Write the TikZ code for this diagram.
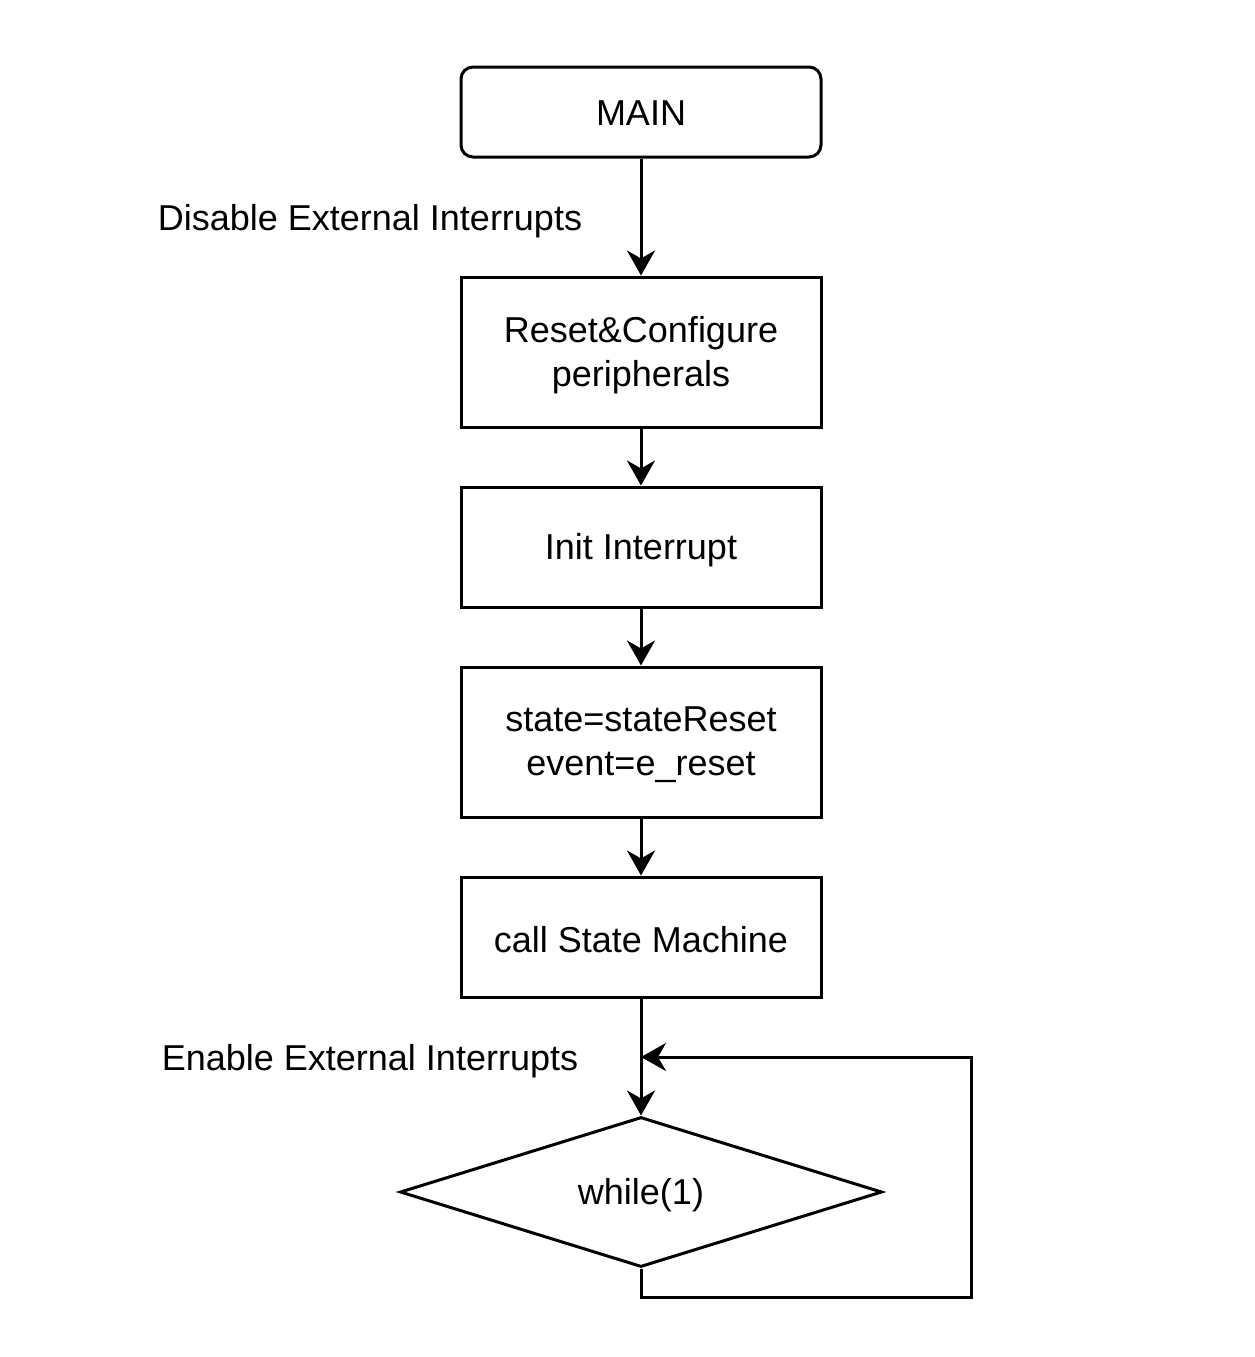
\documentclass[tikz,border=0pt]{standalone}
\usepackage{fontspec}
\setmainfont{Liberation Sans}
\usetikzlibrary{arrows.meta,shapes.geometric}
\newcommand{\lowr}[2][3pt]{\raisebox{-#1}[\height][\depth]{#2}}
\newcommand{\twoline}[2]{\lowr{\begin{minipage}{340pt}\centering #1\\#2\end{minipage}}}
\begin{document}
\begin{tikzpicture}[x=1pt,y=-1pt,
  every node/.style={font=\fontsize{36}{44}\selectfont},
  stepbox/.style={draw,line width=3pt,minimum width=360pt,align=center,inner sep=0pt},
  conn/.style={line width=3pt,-{Stealth[length=25pt,width=28pt,inset=8pt]}},
  lbl/.style={inner sep=0pt}]
\useasboundingbox (0,0) rectangle (1255,1357);
\node[stepbox,rounded corners=12pt,minimum height=90pt] (main) at (641,112) {\lowr[1pt]{MAIN}};
\node[stepbox,minimum height=150pt] (reset) at (641,352) {\twoline{Reset\&Configure}{peripherals}};
\node[stepbox,minimum height=120pt] (init) at (641,547) {\lowr{Init Interrupt}};
\node[stepbox,minimum height=150pt] (state) at (641,742) {\twoline{state=stateReset}{event=e\_reset}};
\node[stepbox,minimum height=120pt] (call) at (641,937) {\lowr{call State Machine}};
\node[draw,line width=3pt,diamond,aspect=3.2133,minimum width=482pt,minimum height=150pt,inner sep=0pt] (loop) at (641,1192) {\lowr{while(1)}};
\node[lbl] (dis) at (370,221) {Disable External Interrupts};
\node[lbl] (en) at (370,1061) {Enable External Interrupts};
\coordinate (jn) at (641,1057);
\coordinate (b1) at (641,1297);
\coordinate (b2) at (971,1297);
\coordinate (b3) at (971,1057);
\draw[conn] (main) -- (reset);
\draw[conn] (reset) -- (init);
\draw[conn] (init) -- (state);
\draw[conn] (state) -- (call);
\draw[conn] (call) -- (loop.north);
\draw[conn] (loop.south) -- (b1) -- (b2) -- (b3) -- (jn);
\end{tikzpicture}
\end{document}
